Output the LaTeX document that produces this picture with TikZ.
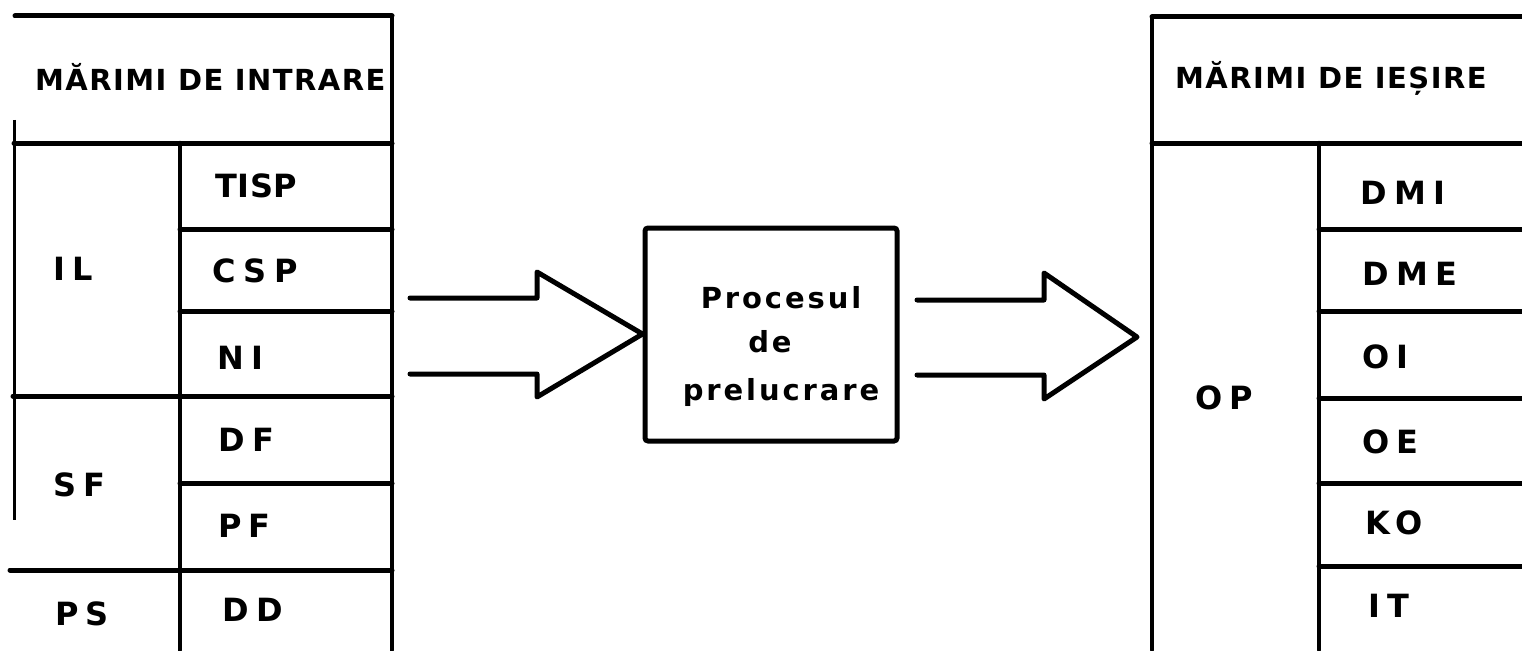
\documentclass[tikz,border=0pt]{standalone}
\usepackage{fontspec}
\setmainfont{DejaVu Sans}
\newfontfamily\hdfont[LetterSpace=5]{DejaVu Sans Bold}
\newfontfamily\cellfont[LetterSpace=23]{DejaVu Sans Bold}
\newfontfamily\tightfont[LetterSpace=2]{DejaVu Sans Bold}
\newfontfamily\procfont[LetterSpace=10]{DejaVu Sans Bold}
\begin{document}
\begin{tikzpicture}[x=1pt,y=-1pt,
  rule/.style={line width=5pt,line cap=round},
  vrule/.style={line width=4.5pt,line cap=round},
  thinrule/.style={line width=3pt},
  hdr/.style={font=\fontsize{29}{31}\selectfont\hdfont,inner sep=0pt,anchor=west},
  cell/.style={font=\fontsize{32}{34}\selectfont\cellfont,anchor=west,inner sep=0pt},
  tcell/.style={font=\fontsize{32}{34}\selectfont\tightfont,anchor=west,inner sep=0pt},
  proctxt/.style={font=\fontsize{29}{31}\selectfont\procfont,inner sep=0pt,anchor=base},
  bigarrow/.style={line width=5pt,line cap=round,line join=round}]
\useasboundingbox (0,0) rectangle (1522,650);
\fill[white] (0,0) rectangle (1522,650);

% ---------- input table ----------
\coordinate (inTL) at (15,16);
\draw[rule] (inTL) -- (392,16);
\draw[vrule] (392,16) -- (392,650);
\draw[thinrule] (14,120) -- (14,520);
\draw[rule] (14,143) -- (392,143);
\draw[vrule] (180,143) -- (180,650);
\draw[rule] (180,229) -- (392,229);
\draw[rule] (180,311) -- (392,311);
\draw[rule] (13,396) -- (392,396);
\draw[rule] (180,483) -- (392,483);
\draw[rule] (10,570) -- (392,570);

\node[hdr] (inhdr) at (35,77) {MĂRIMI DE INTRARE};
\node[tcell] (tisp) at (215,186) {TISP};
\node[cell] (csp) at (212,271) {CSP};
\node[cell] (ni) at (217,358) {NI};
\node[cell] (df) at (218,440) {DF};
\node[cell] (pf) at (218,526) {PF};
\node[cell] (dd) at (222,610) {DD};
\node[cell] (il) at (53,269) {IL};
\node[cell] (sf) at (53,485) {SF};
\node[cell] (ps) at (55,614) {PS};

% ---------- process box ----------
\node[draw,line width=5pt,rounded corners=3pt,minimum width=252pt,minimum height=213pt,inner sep=0pt] (proc) at (771,334.5) {};
\node[proctxt] (p1) at (781,308) {Procesul};
\node[proctxt] (p2) at (770,352) {de};
\node[proctxt] (p3) at (781,400) {prelucrare};

% ---------- hollow arrows ----------
\coordinate (a1s1) at (410,298);
\coordinate (a1s2) at (410,374);
\draw[bigarrow] (a1s1) -- (537,298) -- (537,272) -- (proc.west |- 0,334) -- (537,397) -- (537,374) -- (a1s2);
\coordinate (a2s1) at (917,300);
\coordinate (a2s2) at (917,375);
\draw[bigarrow] (a2s1) -- (1044,300) -- (1044,273) -- (1137,337) -- (1044,399) -- (1044,375) -- (a2s2);

% ---------- output table ----------
\coordinate (outTL) at (1152,17);
\draw[rule] (1522,17) -- (outTL);
\draw[vrule] (outTL) -- (1152,650);
\draw[rule] (1152,143) -- (1522,143);
\draw[vrule] (1319,143) -- (1319,650);
\draw[rule] (1319,229) -- (1522,229);
\draw[rule] (1319,311) -- (1522,311);
\draw[rule] (1319,398) -- (1522,398);
\draw[rule] (1319,483) -- (1522,483);
\draw[rule] (1319,566) -- (1522,566);

\node[hdr] (outhdr) at (1175,78) {MĂRIMI DE IEȘIRE};
\node[cell] (dmi) at (1360,193) {DMI};
\node[cell] (dme) at (1362,274) {DME};
\node[cell] (oi) at (1362,357) {OI};
\node[cell] (oe) at (1362,442) {OE};
\node[cell] (ko) at (1365,523) {KO};
\node[cell] (it) at (1368,606) {IT};
\node[cell] (op) at (1195,398) {OP};
\end{tikzpicture}
\end{document}
